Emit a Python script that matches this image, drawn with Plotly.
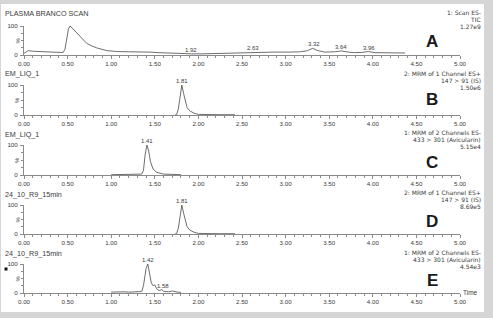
import plotly.graph_objects as go

W, H = 493, 318

# ---------------- data ----------------
tA = [0.00, 0.02, 0.05, 0.10, 0.20, 0.30, 0.40, 0.45, 0.47, 0.49, 0.51, 0.53, 0.565, 0.60, 0.64, 0.68, 0.72, 0.78,
      0.83, 0.95, 1.06, 1.20, 1.35, 1.45, 1.55, 1.64, 1.79, 1.92, 2.05, 2.20, 2.30, 2.48, 2.63, 2.86, 3.05, 3.17,
      3.25, 3.31, 3.37, 3.45, 3.56, 3.64, 3.72, 3.79, 3.88, 3.95, 4.03, 4.15, 4.25, 4.37]
yA = [6, 10, 15, 13, 11, 10, 9, 9, 20, 55, 90, 100, 89, 78, 62, 50, 40, 31,
      25, 15, 12, 11, 11, 10, 8, 7, 4, 4, 4, 5, 7, 9, 10, 10, 10, 11,
      15, 23, 15, 10, 11, 14, 10, 8, 9, 12, 8, 8, 7, 7]

tB = [1.73, 1.75, 1.77, 1.79, 1.81, 1.83, 1.85, 1.87, 1.90, 1.95, 2.00, 2.10, 2.25, 2.42]
yB = [0, 1, 20, 70, 100, 72, 42, 25, 14, 6, 2, 1, 1, 1]

tC = [1.00, 1.10, 1.20, 1.30, 1.35, 1.37, 1.39, 1.41, 1.43, 1.45, 1.48, 1.52, 1.56, 1.60, 1.70, 1.80]
yC = [1, 1, 1, 2, 3, 15, 70, 100, 80, 45, 20, 9, 5, 3, 2, 1]

tD = [1.73, 1.75, 1.77, 1.79, 1.81, 1.83, 1.85, 1.87, 1.90, 1.95, 2.00, 2.10, 2.25, 2.42]
yD = [0, 1, 20, 70, 100, 72, 42, 25, 14, 6, 2, 1, 1, 1]

tE = [1.00, 1.05, 1.10, 1.15, 1.20, 1.25, 1.30, 1.35, 1.37, 1.39, 1.40, 1.42, 1.44, 1.46, 1.48, 1.50, 1.52,
      1.55, 1.58, 1.60, 1.63, 1.66, 1.70, 1.73, 1.76, 1.80]
yE = [3, 4, 3, 4, 3, 4, 4, 5, 25, 70, 85, 100, 65, 35, 25, 28, 15, 8, 12, 6, 5, 4, 7, 4, 3, 2]

panel_titles = ["PLASMA BRANCO SCAN", "EM_LIQ_1", "EM_LIQ_1", "24_10_R9_15min", "24_10_R9_15min"]
panel_info = [
    ["1: Scan ES-", "TIC", "1.27e9"],
    ["2: MRM of 1 Channel ES+", "147 > 91 (IS)", "1.50e6"],
    ["1: MRM of 2 Channels ES-", "433 > 301 (Avicularin)", "5.15e4"],
    ["2: MRM of 1 Channel ES+", "147 > 91 (IS)", "8.69e5"],
    ["1: MRM of 2 Channels ES-", "433 > 301 (Avicularin)", "4.54e3"],
]
panel_letters = ["A", "B", "C", "D", "E"]
peak_labels = [
    [(1.92, 4, "1.92"), (2.63, 10, "2.63"), (3.32, 23, "3.32"), (3.64, 14, "3.64"), (3.96, 12, "3.96")],
    [(1.81, 100, "1.81")],
    [(1.41, 100, "1.41")],
    [(1.81, 100, "1.81")],
    [(1.42, 100, "1.42"), (1.59, 12, "1.58")],
]
x_ticks = [0.0, 0.5, 1.0, 1.5, 2.0, 2.5, 3.0, 3.5, 4.0, 4.5, 5.0]

series_t = [tA, tB, tC, tD, tE]
series_y = [yA, yB, yC, yD, yE]

# ---------------- layout geometry (pixels) ----------------
zero_px = [55, 115, 175, 234, 293]
top_px = [26, 85, 145, 205, 264]
title_px = [14, 74, 134, 194, 253]
info_px = [12.5, 73.5, 132.5, 192.5, 252.5]
letter_px = [42, 100, 162, 221, 280]
x_left, x_right = 24, 460

SANS = "Liberation Sans, Arial, sans-serif"
WIDE = "DejaVu Sans, Liberation Sans, sans-serif"
TXT = "#3a3a3a"
LINE = "#5e5e5e"
AX = "#8a8a8a"

def py(p):
    return 1 - p / H

def px(p):
    return p / W

fig = go.Figure()
layout = dict(
    template="none",
    width=W, height=H, margin=dict(l=0, r=0, t=0, b=0),
    paper_bgcolor="#d6d6d6", plot_bgcolor="rgba(0,0,0,0)",
    showlegend=False, font=dict(family=SANS, size=6.5, color=TXT),
)
annotations = []
shapes = [dict(type="rect", xref="paper", yref="paper", x0=px(1), x1=px(484), y0=py(312), y1=py(4),
               fillcolor="white", line=dict(width=0), layer="below"),
          dict(type="rect", xref="paper", yref="paper", x0=px(4.5), x1=px(7.5), y0=py(270.5), y1=py(267.5),
               fillcolor="#111", line=dict(width=0))]

for i in range(5):
    n = "" if i == 0 else str(i + 1)
    xa, ya = "x" + n, "y" + n
    fig.add_trace(go.Scatter(x=series_t[i], y=series_y[i], mode="lines",
                             line=dict(color=LINE, width=0.9), xaxis=xa, yaxis=ya, hoverinfo="skip"))
    layout["xaxis" + n] = dict(
        domain=[px(x_left), px(x_right)], range=[0, 5], anchor=ya,
        tickvals=x_ticks, ticktext=[f"{v:.2f}" for v in x_ticks],
        ticks="outside", ticklen=3, tickwidth=1, tickcolor=AX,
        minor=dict(dtick=0.1, ticks="outside", ticklen=2, tickcolor=AX, tick0=0, showgrid=False),
        showline=True, linecolor=AX, linewidth=1, showgrid=False, zeroline=False,
        tickfont=dict(size=6.2, color=TXT, family=SANS),
    )
    layout["yaxis" + n] = dict(
        domain=[py(zero_px[i]), py(top_px[i])], range=[0, 100], anchor=xa,
        tickvals=[0, 100], ticktext=["0", "100"],
        ticks="outside", ticklen=3, tickcolor=AX,
        minor=dict(tickvals=[25, 50, 75], ticks="outside", ticklen=2, tickcolor=AX, showgrid=False),
        showline=True, linecolor=AX, linewidth=1, showgrid=False, zeroline=False,
        tickfont=dict(size=6.2, color=TXT, family=SANS), ticklabelstandoff=1,
    )
    # title
    annotations.append(dict(xref="paper", yref="paper", x=px(4), y=py(title_px[i]), text=panel_titles[i],
                            showarrow=False, xanchor="left", yanchor="middle", borderpad=0,
                            font=dict(size=7.2, color=TXT, family=SANS)))
    # info lines
    for k, line in enumerate(panel_info[i]):
        annotations.append(dict(xref="paper", yref="paper", x=px(482), y=py(info_px[i] + k * 7.0), text=line,
                                showarrow=False, xanchor="right", yanchor="middle", borderpad=0,
                                font=dict(size=6, color=TXT, family=WIDE)))
    # big letter
    annotations.append(dict(xref="paper", yref="paper", x=px(432), y=py(letter_px[i]), text="<b>" + panel_letters[i] + "</b>",
                            showarrow=False, xanchor="center", yanchor="middle",
                            font=dict(size=17, color="#1a1a1a", family=SANS)))
    # % label
    annotations.append(dict(xref="paper", yref="paper", x=px(17), y=py((zero_px[i] + top_px[i]) / 2), text="%",
                            showarrow=False, xanchor="center", yanchor="middle", textangle=-90, borderpad=0,
                            font=dict(size=6, color=TXT, family=SANS)))
    # peak labels
    for (t, v, s) in peak_labels[i]:
        annotations.append(dict(xref=xa, yref=ya, x=t, y=v, text=s, showarrow=False,
                                xanchor="center", yanchor="bottom", yshift=0, borderpad=0,
                                font=dict(size=6, color=TXT, family=SANS)))

annotations.append(dict(xref="paper", yref="paper", x=px(462), y=py(292), text="Time", showarrow=False,
                        xanchor="left", yanchor="middle", borderpad=0, font=dict(size=6.5, color=TXT, family=SANS)))

layout["annotations"] = annotations
layout["shapes"] = shapes
fig.update_layout(**layout)
fig.write_html("out.html")
